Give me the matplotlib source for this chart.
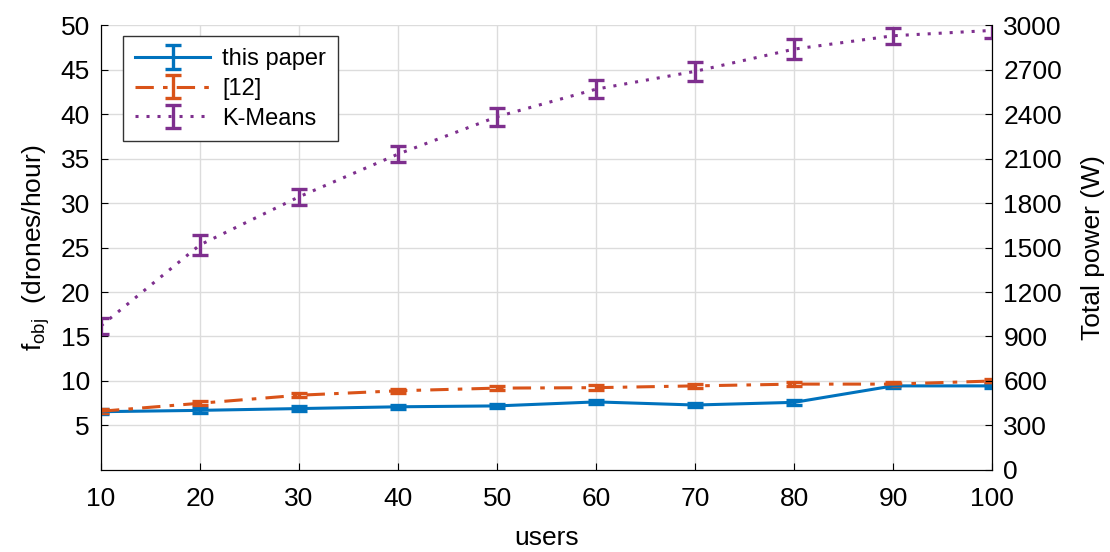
import matplotlib.pyplot as plt

plt.rcParams['font.family'] = ['Liberation Sans', 'DejaVu Sans']
plt.rcParams['mathtext.fontset'] = 'custom'
plt.rcParams['mathtext.rm'] = 'Liberation Sans'
plt.rcParams['mathtext.it'] = 'Liberation Sans'

usuarios = [10, 20, 30, 40, 50, 60, 70, 80, 90, 100]
este_paper = [6.55, 6.7, 6.9, 7.1, 7.2, 7.65, 7.3, 7.6, 9.45, 9.45]
err_este = [0.25] * 10
ref_12 = [6.6, 7.5, 8.4, 8.9, 9.2, 9.25, 9.45, 9.65, 9.65, 10.0]
err_12 = [0.25] * 10
kmeans = [16.2, 25.3, 30.7, 35.5, 39.7, 42.8, 44.8, 47.3, 48.8, 49.4]
err_km = [0.9, 1.1, 0.9, 0.9, 1.0, 1.0, 1.1, 1.1, 0.9, 0.9]

azul = '#0072BD'
naranja = '#D95319'
morado = '#7E2F8E'

fig = plt.figure(figsize=(11.1, 5.52), dpi=100)
ax = fig.add_axes([0.091, 0.1486, 0.803, 0.806])

estilo = dict(linewidth=2.2, capsize=6, capthick=2.4, elinewidth=2.4, zorder=3)
l1 = ax.errorbar(usuarios, este_paper, yerr=err_este, color=azul, linestyle='-',
                 label='this paper', **estilo)
l2 = ax.errorbar(usuarios, ref_12, yerr=err_12, color=naranja, linestyle='-.',
                 label='[12]', **estilo)
l3 = ax.errorbar(usuarios, kmeans, yerr=err_km, color=morado, linestyle=':',
                 label='K-Means', **estilo)
l2[0].set_dashes((6, 3, 1.5, 3))
l3[0].set_dashes((1, 2.6))

ax.set_xlim(10, 100)
ax.set_ylim(0, 50)
ax.set_xticks(range(10, 101, 10))
ax.set_yticks(range(5, 51, 5))
ax.grid(True, color='#dcdcdc', linewidth=1.0)
ax.set_axisbelow(True)
ax.tick_params(direction='in', labelsize=19, length=5, top=False)
ax.tick_params(axis='x', pad=12)
ax.tick_params(axis='y', pad=8)
ax.set_xlabel('users', fontsize=19)
ax.set_ylabel(r'f$_{\mathrm{obj}}$  (drones/hour)', fontsize=19)
ax.xaxis.set_label_coords(0.5, -0.125)
ax.yaxis.set_label_coords(-0.055, 0.5)
ax.spines['top'].set_visible(False)

ax2 = ax.twinx()
ax2.set_ylim(0, 3000)
ax2.set_yticks(range(0, 3001, 300))
ax2.tick_params(direction='in', labelsize=19, length=5, pad=8)
ax2.set_ylabel('Total power (W)', fontsize=19)
ax2.yaxis.set_label_coords(1.099, 0.5)
ax2.spines['top'].set_visible(False)

leg = ax.legend(loc='upper left', bbox_to_anchor=(0.0247, 0.975), borderaxespad=0,
                fontsize=17, fancybox=False, edgecolor='#333333', framealpha=1,
                handlelength=3.2, labelspacing=0.33, borderpad=0.5, handletextpad=0.5)
leg.get_frame().set_linewidth(1.0)

fig.savefig('out.png', dpi=100)
